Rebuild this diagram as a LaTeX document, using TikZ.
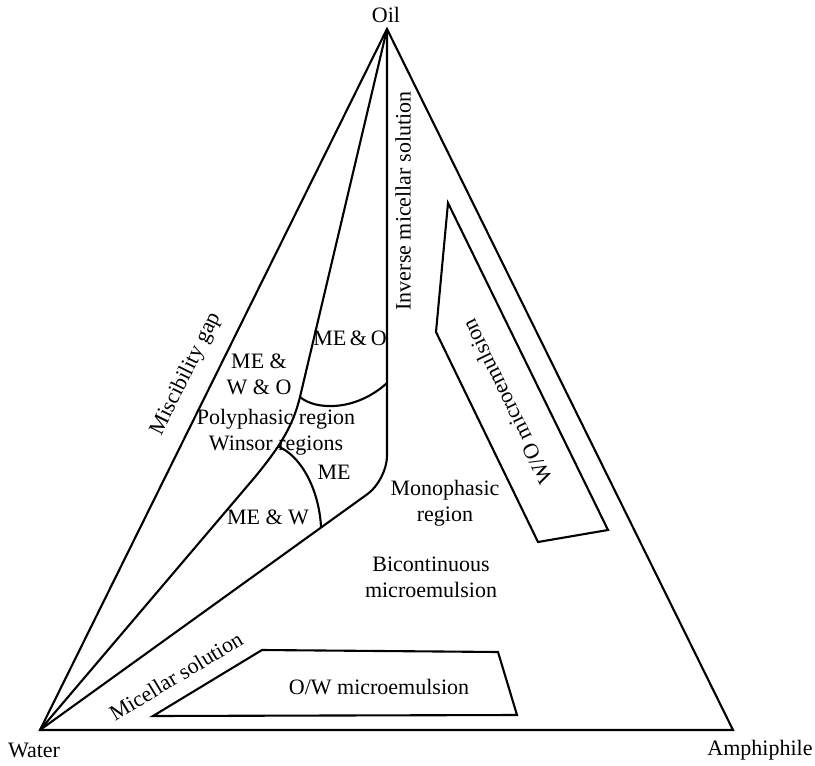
\documentclass[tikz,border=0pt]{standalone}
\usepackage{fontspec}
\setmainfont{Liberation Serif}
\usetikzlibrary{calc}
\begin{document}
\begin{tikzpicture}[x=1pt,y=-1pt,
  boundary/.style={line width=2.1pt},
  lbl/.style={inner sep=0pt, font=\fontsize{22}{26}\selectfont, align=center}]
\useasboundingbox (0,0) rectangle (815,766);

% corners of the ternary diagram
\coordinate (O) at (387,29);
\coordinate (W) at (40,730);
\coordinate (A) at (733,730);
\draw[boundary] (O) -- (W) -- (A) -- cycle;

% boundary of the polyphasic (Winsor) region
\coordinate (q1) at (255,477);
\coordinate (q2) at (300,397);
\draw[boundary] (W) -- (q1) .. controls (282,444) and (293,425) .. (q2)
  coordinate[pos=0.35] (j1) -- (O);

% boundary of the monophasic region
\coordinate (c3) at (387,480);
\draw[boundary, rounded corners=24pt] (O) -- (c3) -- (W);
\coordinate (k) at ($(c3)!0.19!(W)$);
\coordinate (m) at (387,383);

% inner Winsor boundaries
\draw[boundary] (q2) .. controls (315,410) and (355,412) .. (m);
\draw[boundary] (j1) .. controls (300,455) and (319,488) .. (k);

% microemulsion domains
\draw[boundary] (448,203) -- (436,332) -- (538,542) -- (608,530) -- cycle;
\draw[boundary] (153,716) -- (262,650) -- (498,652) -- (517,715) -- cycle;

% labels
\node[lbl] (oil) at (386,15) {Oil};
\node[lbl] (water) at (34,750) {Water};
\node[lbl] (amph) at (760,750) {Amphiphile};
\node[lbl, rotate=63.7] (gap) at (186,374) {Miscibility gap};
\node[lbl, rotate=90] (inv) at (403,201) {Inverse micellar solution};
\node[lbl, rotate=116] (wo) at (507,402) {W/O microemulsion};
\node[lbl] (mewo) at (259,374) {ME \&\\W \& O};
\node[lbl] (meo) at (350,338) {ME\,\&\,O};
\node[lbl] (poly) at (276,432) {Polyphasic region\\Winsor regions};
\node[lbl] (me) at (334,472) {ME};
\node[lbl] (mew) at (268,517) {ME \& W};
\node[lbl] (mono) at (445,503) {Monophasic\\region};
\node[lbl] (bic) at (431,577) {Bicontinuous\\microemulsion};
\node[lbl, rotate=31] (mic) at (176,676) {Micellar solution};
\node[lbl] (ow) at (379,687) {O/W microemulsion};
\end{tikzpicture}
\end{document}
